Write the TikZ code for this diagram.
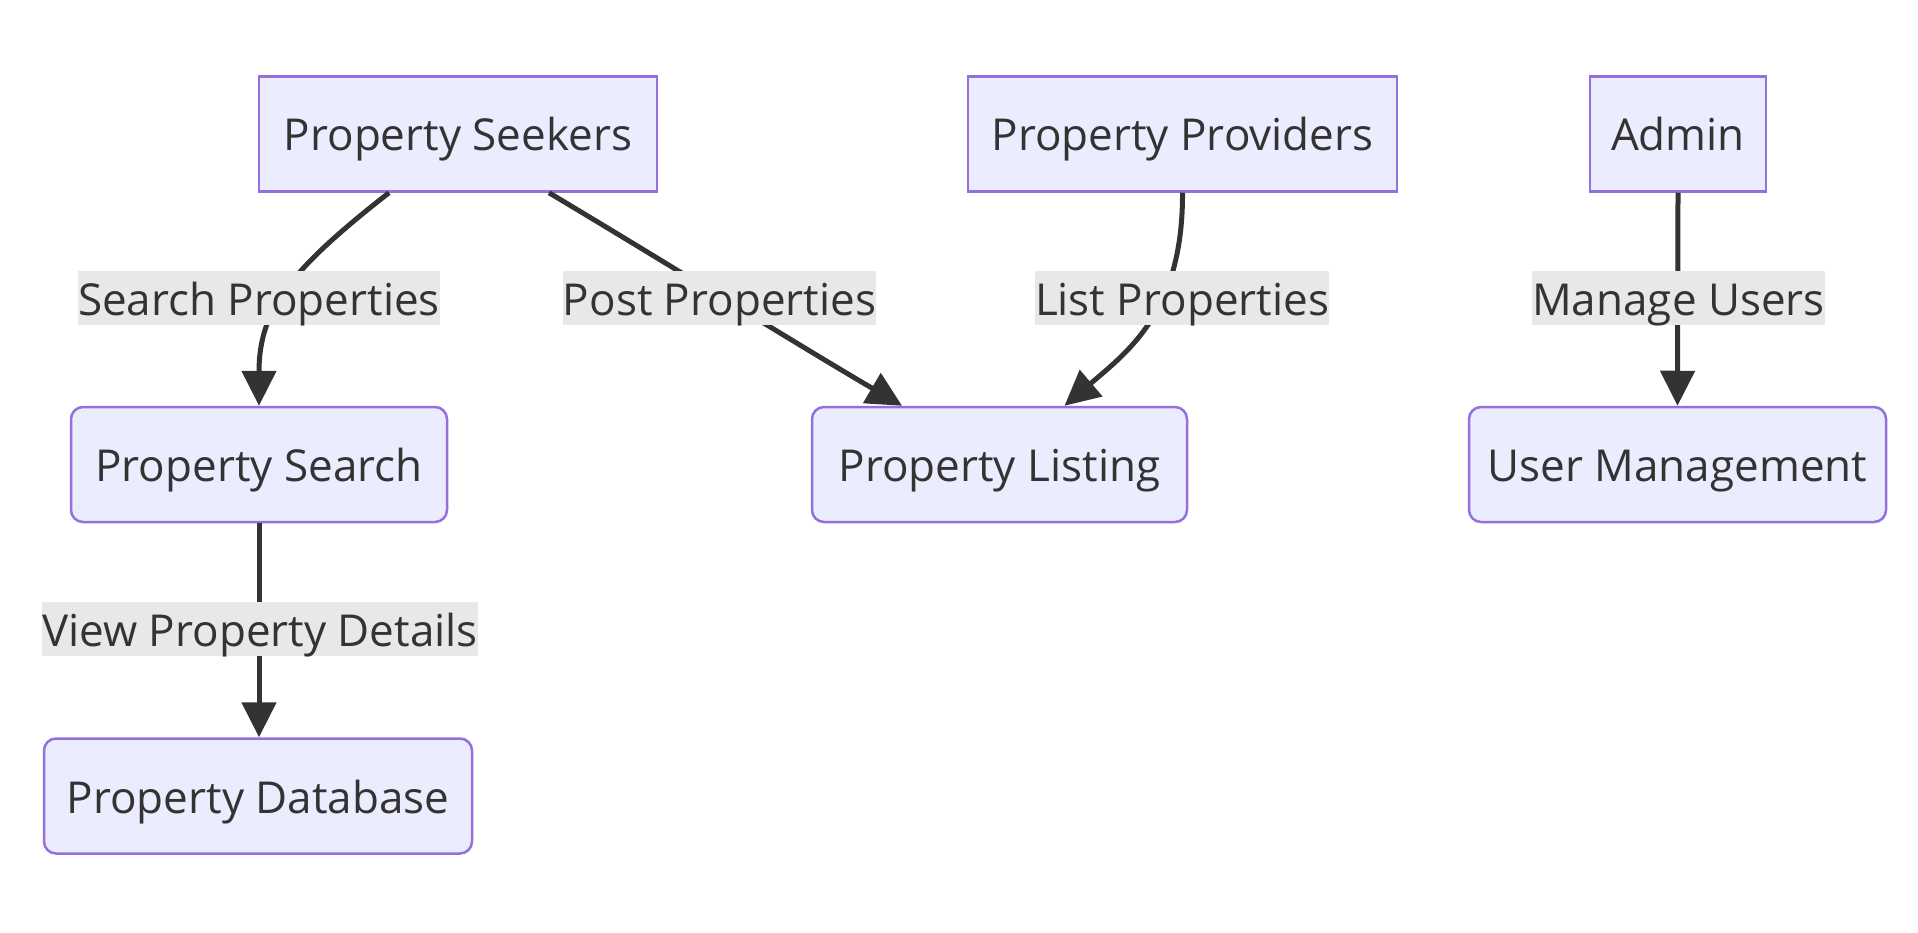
\documentclass[tikz,border=0pt]{standalone}
\usepackage{fontspec}
\setmainfont{Open Sans}
\usetikzlibrary{arrows.meta}
\definecolor{nodefill}{HTML}{ECECFF}
\definecolor{nodeline}{HTML}{9370DB}
\definecolor{ink}{HTML}{333333}
\definecolor{lblbg}{HTML}{E8E8E8}
\begin{document}
\begin{tikzpicture}[x=1pt,y=-1pt,
  every node/.style={font=\fontsize{44}{53}\selectfont, text=ink, text height=44pt, text depth=10pt},
  sqbox/.style={draw=nodeline, fill=nodefill, line width=2.5pt, minimum height=115pt, inner xsep=0pt},
  rdbox/.style={sqbox, rounded corners=12pt},
  lbl/.style={fill=lblbg, inner xsep=0pt, inner ysep=0pt, minimum height=53pt},
  conn/.style={draw=ink, line width=5pt, -{Triangle[length=35pt,width=34pt]}}]
\useasboundingbox (0,0) rectangle (1918,933);
% nodes
\node[sqbox, minimum width=398pt] (seekers) at (458,134) {Property Seekers};
\node[sqbox, minimum width=429pt] (providers) at (1182.5,134) {Property Providers};
\node[sqbox, minimum width=176pt] (admin) at (1678,134) {Admin};
\node[rdbox, minimum width=376pt] (search) at (259,464.5) {Property Search};
\node[rdbox, minimum width=375pt] (listing) at (999.5,464.5) {Property Listing};
\node[rdbox, minimum width=417pt] (users) at (1677.5,464.5) {User Management};
\node[rdbox, minimum width=428pt] (db) at (258,796) {Property Database};
% connectors
\draw[conn] ([xshift=-69pt]seekers.south) .. controls (290,270) and (259,310) .. (search.north);
\draw[conn] ([xshift=91pt]seekers.south) .. controls (670,265) and (790,340) .. ([xshift=-97.5pt]listing.north);
\draw[conn] (providers.south) .. controls (1183,310) and (1130,350) .. ([xshift=65pt]listing.north);
\draw[conn] (admin.south) -- (users.north);
\draw[conn] (search.south) -- (search.south |- db.north);
% labels
\node[lbl] (l1) at (259,298) {Search Properties};
\node[lbl] (l2) at (719.5,298) {Post Properties};
\node[lbl] (l3) at (1182,298) {List Properties};
\node[lbl] (l4) at (1678.5,298) {Manage Users};
\node[lbl] (l5) at (260,629) {View Property Details};
\end{tikzpicture}
\end{document}
